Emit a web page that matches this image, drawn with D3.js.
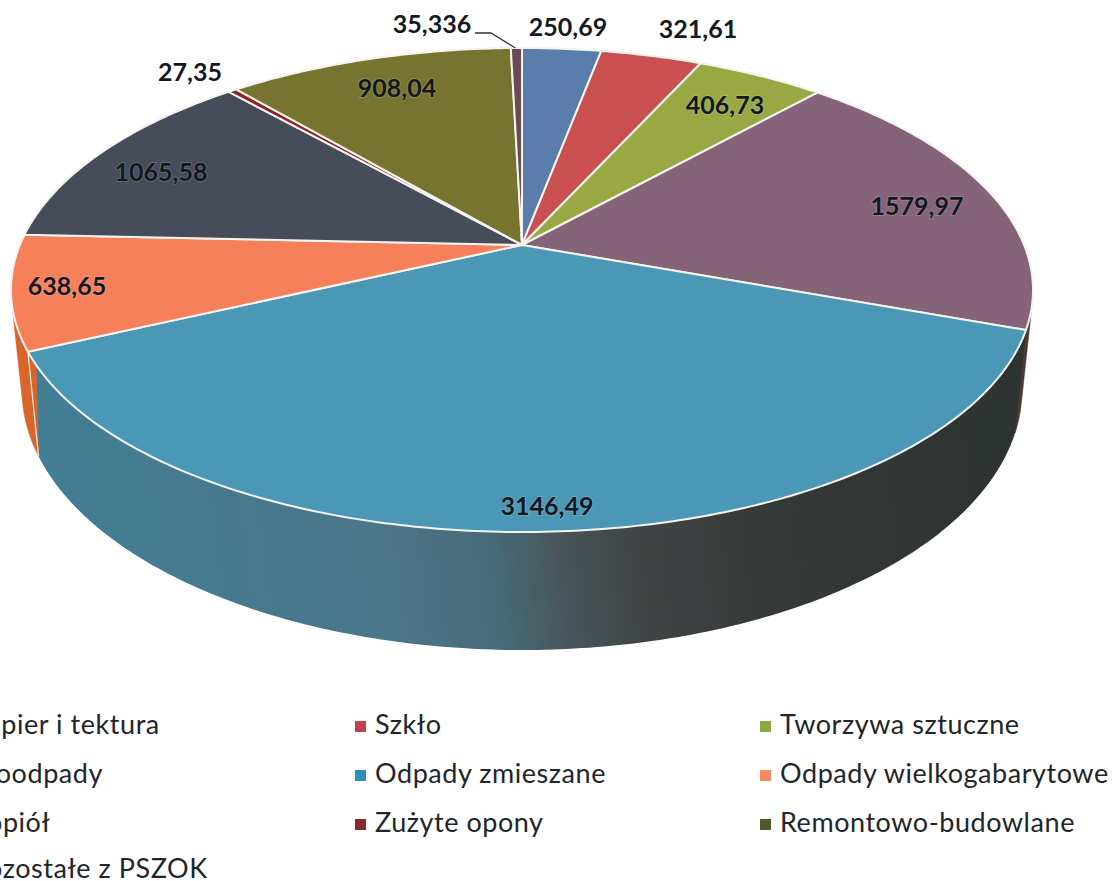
<!DOCTYPE html>
<html>
  <head>
    <meta charset="utf-8" />
    <script src="https://cdn.jsdelivr.net/npm/d3@7"></script>
    <style>
      html, body { margin: 0; padding: 0; background: #fff; overflow: hidden; }
      svg { display: block; }
      text { font-family: Lato, "Open Sans", sans-serif; fill: #14181f; }
      .label { font-size: 25px; font-weight: 700; text-anchor: middle; dominant-baseline: middle; }
      .onSlice { paint-order: stroke; stroke: rgba(255,255,255,0.18); stroke-width: 2px; }
      .legend { font-size: 27px; letter-spacing: 0.55px; fill: #22252a; dominant-baseline: middle; }
    </style>
  </head>
  <body>
    <div id="chart"></div>
    <script>
      // values
      const categories = [
        "Papier i tektura", "Szkło", "Tworzywa sztuczne",
        "Bioodpady", "Odpady zmieszane", "Odpady wielkogabarytowe",
        "Popiół", "Zużyte opony", "Remontowo-budowlane",
        "Pozostałe z PSZOK"
      ];
      const values = [250.69, 321.61, 406.73, 1579.97, 3146.49, 638.65, 1065.58, 27.35, 908.04, 35.336];
      const valueLabels = ["250,69", "321,61", "406,73", "1579,97", "3146,49", "638,65", "1065,58", "27,35", "908,04", "35,336"];
      const topColors = ["#5b7dab", "#c9504f", "#9aa843", "#856378", "#4b97b6", "#f5805a", "#474c5a", "#8e2326", "#76742f", "#6b4a52"];
      const wallColors = ["#3c5474", "#853534", "#66702c", "#4a3a35", "#2f3533", "#d8662a", "#2f323c", "#5e1719", "#4e4d1f", "#473136"];
      const legendColors = ["#4f7fb5", "#c5404d", "#8fa83f", "#7a5a90", "#2f8fb8", "#f58a60", "#3d4450", "#8a2a2e", "#4f5a28", "#6b4a52"];

      // where each value label sits, same order as values
      const labelX = [568, 698, 725, 917, 547, 67, 161, 190, 397, 432];
      const labelY = [30, 32, 108, 209, 509, 289, 175, 75, 91, 27];

      const width = 1112, height = 881;

      // top face is a circle seen in perspective, so its centre is not the ellipse centre
      const topRim = { cx: 522, cy: 290, rx: 511, ry: 242 };
      const bottomRim = { cx: 522, cy: 390, rx: 500, ry: 260 };
      const boost = -0.186;

      const svg = d3.select("#chart").append("svg")
        .attr("width", width)
        .attr("height", height);

      function project(e, angle, r = 1) {
        let u = r * Math.sin(angle), v = -r * Math.cos(angle);
        let w = 1 + boost * v;
        return [
          e.cx + e.rx * u * Math.sqrt(1 - boost * boost) / w,
          e.cy + e.ry * (v + boost) / w
        ];
      }

      function rim(e, d) {
        let n = Math.max(2, Math.ceil((d.endAngle - d.startAngle) * 80));
        return d3.range(n + 1).map(i => project(e, d.startAngle + (d.endAngle - d.startAngle) * i / n));
      }

      const line = d3.line();
      const arcs = d3.pie().sort(null).value(d => d)(values);

      // shading along the front wall of the big slice
      const grad = svg.append("defs").append("linearGradient")
        .attr("id", "wallShade")
        .attr("gradientUnits", "userSpaceOnUse")
        .attr("x1", 30).attr("y1", 560)
        .attr("x2", 1020).attr("y2", 440);
      [[0, "#427f96"], [0.2, "#47798d"], [0.36, "#4b7688"], [0.46, "#476a78"], [0.53, "#48555a"],
       [0.6, "#414545"], [0.72, "#363a39"], [1, "#2d3331"]].forEach(s => {
        grad.append("stop").attr("offset", s[0]).attr("stop-color", s[1]);
      });

      // walls first, the top face hides whatever is behind it
      // hull so the side slices keep their straight outer edge
      svg.append("g").selectAll("path")
        .data(arcs)
        .join("path")
        .attr("d", (d, i) => i === 4
          ? line(rim(topRim, d).concat(rim(bottomRim, d).reverse())) + "Z"
          : line(d3.polygonHull(rim(topRim, d).concat(rim(bottomRim, d)))) + "Z")
        .attr("fill", (d, i) => i === 4 ? "url(#wallShade)" : wallColors[i])
        .attr("stroke", (d, i) => i === 4 ? "none" : wallColors[i])
        .attr("stroke-width", 0.5);

      // white seam between the orange and teal walls
      svg.append("path")
        .attr("d", line([project(topRim, arcs[4].endAngle), project(bottomRim, arcs[4].endAngle)]))
        .attr("stroke", "#e8eef0")
        .attr("stroke-width", 1.2);

      const apex = project(topRim, 0, 0);
      svg.append("g").selectAll("path")
        .data(arcs)
        .join("path")
        .attr("d", d => line([apex].concat(rim(topRim, d))) + "Z")
        .attr("fill", (d, i) => topColors[i])
        .attr("stroke", "#f4f4f0")
        .attr("stroke-width", 2)
        .attr("stroke-linejoin", "round");

      // value labels
      svg.append("g").selectAll("text")
        .data(valueLabels)
        .join("text")
        .attr("class", (d, i) => [2, 3, 4, 5, 6, 8].includes(i) ? "label onSlice" : "label")
        .attr("x", (d, i) => labelX[i])
        .attr("y", (d, i) => labelY[i])
        .text(d => d);

      // leader for the smallest slice
      let tip = project(topRim, arcs[9].startAngle + (arcs[9].endAngle - arcs[9].startAngle) / 2);
      svg.append("path")
        .attr("d", line([[475, 33], [491, 33], [tip[0] - 1, tip[1]]]))
        .attr("fill", "none")
        .attr("stroke", "#333")
        .attr("stroke-width", 1.3);

      // legend, three columns, first one runs off the left of the page
      const colX = [-49, 355, 760];
      const rowY = [727, 776, 825, 871];
      const legend = svg.append("g").selectAll("g")
        .data(categories)
        .join("g")
        .attr("transform", (d, i) => "translate(" + colX[i % 3] + "," + rowY[Math.floor(i / 3)] + ")");
      legend.append("rect")
        .attr("x", 0).attr("y", -6)
        .attr("width", 11).attr("height", 11)
        .attr("fill", (d, i) => legendColors[i]);
      legend.append("text")
        .attr("class", "legend")
        .attr("x", 20)
        .text(d => d);
    </script>
  </body>
</html>
